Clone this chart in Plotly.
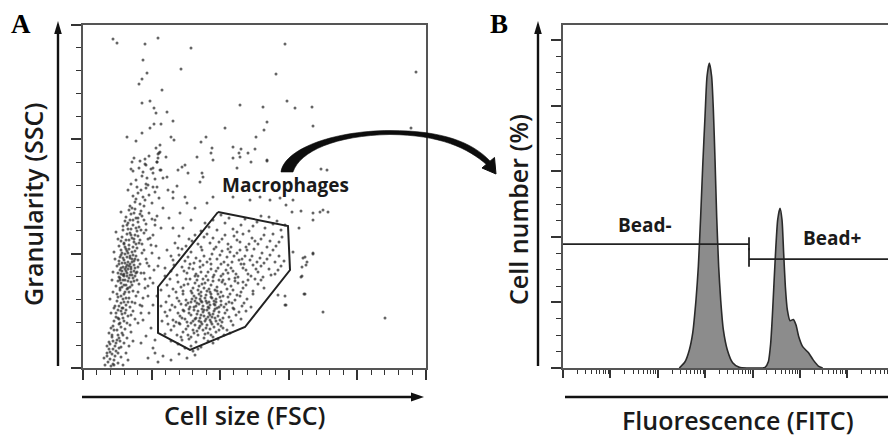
import plotly.graph_objects as go

# page body has an 8px margin: figure is sized so that it fills the 896x437 window
OFF = 8
W, H = 896 - OFF, 437 - OFF

# ---------------- Panel A : FSC / SSC events (arbitrary channel units) ----------------
events_sparse = [
    (30,329),(34,325),(62,324),(75,330),(108,320),(202,324),(60,308),(64,295),(59,289),(56,284),
    (98,299),(193,294),(333,296),(79,278),(59,265),(67,267),(71,260),(73,255),(84,256),(90,247),
    (71,244),(78,244),(67,240),(157,263),(180,261),(204,267),(212,260),(229,261),(230,242),(184,246),
    (181,238),(173,231),(142,240),(328,240),(44,231),(53,227),(59,235),(88,231),(91,228),(118,226),
    (123,231),(129,220),(128,215),(158,219),(156,215),(150,210),(172,219),(168,206),(184,207),(73,220),
    (77,223),(77,216),(76,215),(62,209),(63,203),(49,206),(50,197),(75,210),(74,206),(70,200),
    (77,198),(95,198),(102,203),(119,195),(83,211),(238,199),(244,198),
    (216,140),(222,111),(230,114),(219,101),(219,92),(221,74),(202,63),(240,56),(302,50),(240,158),
    (230,148),(245,156),(209,156),(218,157),(230,155),(210,116),(220,110),(224,106),(223,103),(230,115),
    (218,91),(203,163),(195,73),(202,72),(203,63),(222,74),
    (105,195),(117,186),(130,171),(150,171),(167,168),(177,171),(187,168),(197,170),(210,168),(237,156),
    (124,165),(102,171),(90,176),(74,181),(84,191),(120,191),(99,201),(114,211),(130,208),(157,211),
    (184,208),(150,221),(165,215),(154,200),
]

events_left = [
    (22,3),(25,6),(28,2),(31,8),(24,12),(35,5),(29,14),(38,11),(33,17),(26,19),(40,3),(43,15),(21,10),(36,20),(30,4),(45,8),
    (27,24),(32,22),(37,27),(41,25),(29,31),(35,33),(44,30),(48,36),(31,38),(39,35),(26,35),(46,22),(34,28),(42,39),(50,27),(38,21),(30,27),
    (30,42),(36,44),(41,47),(47,43),(33,51),(39,54),(45,52),(52,49),(28,55),(35,58),(43,58),(50,57),(38,41),(55,45),(31,47),(48,53),(40,50),(44,45),(36,49),(58,55),
    (32,62),(38,65),(43,63),(49,66),(35,71),(41,74),(46,70),(53,72),(30,76),(37,78),(44,79),(50,77),(57,63),(40,69),(47,61),(55,76),(34,67),(60,70),(42,76),(27,69),(52,65),(39,60),
    (33,82),(38,85),(43,83),(48,86),(36,91),(41,94),(46,90),(52,92),(30,96),(37,98),(45,99),(51,97),(56,84),(40,88),(47,81),(58,95),(35,87),(62,89),(44,95),(54,88),(39,81),(49,93),(42,99),(29,88),(65,82),
    (34,102),(39,105),(44,103),(49,106),(37,111),(42,114),(47,110),(53,112),(31,116),(38,118),(46,119),(52,117),(57,104),(41,108),(48,101),(59,115),(36,107),(63,109),(45,115),(55,108),(40,101),(50,113),(43,119),(32,109),(66,102),(61,118),(51,103),(38,113),
    (36,122),(41,125),(46,123),(51,126),(39,131),(44,134),(49,130),(55,132),(33,136),(40,138),(48,139),(54,137),(59,124),(43,128),(50,121),(61,135),(38,127),(65,129),(47,135),(57,128),(42,121),(52,133),(45,139),(35,129),(68,123),(63,138),(53,124),(70,133),
    (40,142),(45,145),(50,143),(55,146),(43,151),(48,154),(53,150),(59,152),(38,156),(46,158),(52,159),(58,157),(63,144),(47,148),(56,141),(66,155),(42,147),(69,149),(51,155),(61,148),(72,143),(49,160),(57,154),(74,152),
    (47,162),(52,166),(57,164),(62,168),(50,172),(55,175),(60,171),(66,173),(45,178),(54,181),(63,180),(69,165),(58,178),(72,176),(48,184),(65,183),(53,169),(76,170),(61,162),(70,181),
    (53,188),(59,192),(64,190),(70,195),(56,200),(62,204),(68,199),(74,206),(51,210),(66,212),(72,189),(78,198),(60,196),(48,199),(75,214),(57,207),(80,190),(63,184),
    (37,90),(41,92),(45,87),(50,90),(39,97),(43,101),(48,96),(52,100),(36,104),(40,110),(45,106),(49,109),(54,96),(47,93),(42,88),(38,94),(44,111),(51,107),(46,102),(55,101),
    (24,15),(27,9),(32,12),(35,15),(30,19),(26,26),(33,25),(36,30),(40,33),(28,40),(34,38),(37,45),(33,55),(38,57),(42,55),(31,60),(36,62),(41,66),(45,66),(34,74),
    (38,72),(43,70),(37,80),(41,83),(45,80),(49,83),(35,95),(40,93),(44,92),(48,99),(53,95),(38,100),(42,105),(47,104),(52,109),(39,115),(44,117),(49,116),(54,120),(41,124),
    (46,128),(51,129),(56,125),(48,133),(53,140),(44,143),(58,138),(50,148),(55,150),(47,112),(43,97),(37,88),(51,87),(46,76),(40,60),(35,50),(29,33),(24,22),(31,3),(27,16),
]

events_gate = [
    (95,24),(102,20),(108,22),(113,26),(118,21),(125,27),(99,28),(106,29),(130,25),(88,27),(115,19),(121,30),(135,29),(110,17),
    (82,34),(88,38),(94,33),(100,36),(105,42),(111,35),(116,40),(122,34),(127,39),(133,36),(138,42),(144,38),(150,43),(91,42),(97,44),(108,31),(119,44),(130,31),(141,33),(85,44),(103,39),(114,37),(124,43),(136,38),(147,35),(112,43),(128,33),(98,31),
    (79,47),(84,52),(90,48),(95,55),(99,50),(104,46),(108,53),(112,49),(115,57),(118,46),(121,52),(124,58),(127,48),(130,54),(133,47),(136,56),(140,50),(144,58),(148,47),(153,53),(158,49),(163,57),(87,58),(93,46),(101,57),(106,59),(110,47),(114,54),(117,50),(120,56),(123,49),(126,55),(129,51),(132,59),(135,52),(139,46),(142,55),(146,51),(151,59),(156,56),(82,56),(97,52),(116,47),(125,51),(131,57),(119,59),(128,46),(111,58),(137,48),
    (78,62),(83,66),(89,63),(94,70),(98,64),(103,68),(107,61),(111,72),(114,65),(117,69),(120,62),(123,73),(126,66),(129,70),(132,63),(135,74),(138,67),(141,61),(145,71),(149,65),(154,73),(159,62),(164,69),(170,74),(86,72),(92,61),(100,74),(105,65),(109,69),(113,62),(116,74),(119,66),(122,70),(125,61),(128,74),(131,67),(134,60),(137,71),(143,64),(147,74),(152,68),(157,72),(161,65),(168,61),(96,67),(118,72),(127,63),(133,69),(112,67),(124,65),
    (78,78),(84,83),(90,79),(95,86),(100,77),(105,84),(110,80),(114,88),(118,76),(122,85),(126,79),(130,87),(134,81),(138,76),(142,84),(146,89),(150,78),(155,85),(160,80),(165,88),(170,77),(175,84),(181,80),(87,89),(93,76),(103,89),(108,77),(116,82),(120,89),(128,83),(136,88),(144,79),(152,87),(158,76),(163,83),(172,89),(98,81),(112,85),(124,77),(132,78),(140,88),(148,82),(178,88),
    (82,92),(88,97),(94,93),(99,101),(104,95),(110,99),(115,92),(120,103),(125,96),(130,91),(135,100),(140,94),(145,103),(150,97),(155,91),(160,100),(165,94),(170,103),(175,96),(180,91),(186,99),(192,94),(198,102),(91,103),(107,104),(118,96),(128,104),(138,92),(148,100),(158,104),(168,92),(178,102),(188,93),(113,94),(133,97),(153,94),(163,98),(143,98),(123,92),(173,99),(101,97),(195,98),
    (90,108),(96,113),(102,107),(108,116),(113,110),(119,118),(124,106),(129,114),(134,109),(139,117),(144,111),(149,106),(154,115),(159,109),(164,118),(169,112),(174,106),(179,115),(184,109),(190,118),(196,112),(201,107),(99,119),(111,105),(121,112),(131,119),(141,106),(151,112),(161,104),(171,119),(181,105),(187,113),(105,111),(137,113),(157,118),(167,108),(147,116),(127,109),(117,107),(177,110),(192,106),
    (103,122),(109,127),(115,124),(121,131),(127,125),(133,121),(139,129),(145,124),(151,132),(157,126),(163,121),(169,130),(175,124),(181,133),(187,127),(193,122),(199,131),(112,133),(124,134),(136,126),(148,121),(160,134),(172,127),(184,121),(196,126),(118,121),(142,133),(154,128),(166,124),(178,129),(130,130),(190,134),(106,129),
    (118,137),(126,141),(134,138),(142,145),(150,139),(158,143),(166,137),(174,146),(182,140),(190,144),(198,138),(130,148),(146,150),(162,149),(178,152),(194,147),(122,145),(138,153),(154,136),(170,142),(186,151),(202,143),
    (105,33),(110,38),(115,33),(120,38),(125,35),(131,41),(108,45),(113,50),(118,53),(122,47),(127,53),(132,50),(106,55),(111,61),(116,64),(121,58),(126,60),(131,64),(136,61),(103,63),
    (108,66),(113,70),(118,67),(123,67),(128,71),(133,66),(138,63),(100,58),(96,45),(102,49),(117,42),(123,40),(129,44),(135,44),(140,40),(109,75),(115,78),(121,80),(127,76),(134,77),
    (140,72),(146,66),(150,60),(101,83),(107,89),(112,92),(119,84),(125,88),(131,93),(139,86),(145,95),(152,90),(160,86),(156,108),(162,112),(145,119),(138,104),(128,99),(117,101),(106,100),
]

events_between = [
    (58,25),(63,32),(68,40),(72,28),(60,48),(66,55),(70,63),(74,72),(62,80),(67,90),(71,98),(64,105),(69,115),(73,122),(76,110),(59,62),(65,72),(70,85),(61,95),(75,102),
    (67,130),(78,140),(72,148),(80,160),(86,150),(90,140),(96,132),(92,125),(84,118),(88,112),(82,100),(95,120),(100,140),(108,148),(112,160),(104,165),(97,155),(90,170),(85,178),(94,182),
    (65,10),(72,15),(80,12),(88,8),(96,14),(104,10),(75,6),(112,13),(70,20),
]

events = events_sparse + events_left + events_gate + events_between
fsc = [e[0] for e in events]
ssc = [e[1] for e in events]

gate_fsc = [135, 205, 207, 162, 107, 75, 75, 135]
gate_ssc = [156, 142, 98, 41, 18, 35, 81, 156]

fsc_range = [0, 343]
ssc_range = [0, 343]
fsc_major = 68.6
ssc_major = 114.333

# ---------------- Panel B : FITC histogram (log10 decades) ----------------
fitc_log = [2.454, 2.574, 2.665, 2.736, 2.806, 2.855, 2.904, 2.947, 2.996, 3.038, 3.087,
            3.136, 3.172, 3.207, 3.242, 3.284, 3.326, 3.383, 3.467, 3.579, 3.72, 3.875,
            4.262, 4.332, 4.381, 4.416, 4.451, 4.487, 4.529, 4.578, 4.620, 4.655, 4.691,
            4.733, 4.789, 4.859, 4.916, 4.972, 5.056, 5.176, 5.281, 5.387, 5.478]
cell_pct = [0.0, 1.9, 5.5, 10.6, 20.8, 30.9, 46.2, 61.4, 76.7, 88.9, 93.0,
            88.9, 78.7, 63.5, 46.2, 30.9, 20.8, 11.6, 5.5, 1.6, 0.2, 0.0,
            0.2, 1.9, 7.5, 15.7, 25.8, 36.0, 45.2, 48.7, 45.2, 35.0, 24.8,
            17.7, 14.4, 14.8, 13.1, 9.6, 6.5, 4.7, 2.4, 0.6, 0.0]

bead_neg_x = [0, 3.924]
bead_neg_y = 37.8
bead_pos_x = [3.924, 7.03]
bead_pos_y = 33.2
gate_split = 3.924

fitc_range = [0, 7.025]
pct_range = [0, 104.6]

# ---------------- figure ----------------
def px(x):
    return (x - OFF) / W

def py(y):
    return 1 - (y - OFF) / H

def pt(x, y):
    return f"{px(x):.5f},{py(y):.5f}"

fig = go.Figure()

fig.add_trace(go.Scatter(
    x=fsc, y=ssc, mode="markers", xaxis="x", yaxis="y",
    marker=dict(size=3, color="#2a2a2a", opacity=0.72, line=dict(width=0)),
    hoverinfo="skip", showlegend=False))

fig.add_trace(go.Scatter(
    x=gate_fsc, y=gate_ssc, mode="lines", xaxis="x", yaxis="y",
    line=dict(color="#222222", width=2), hoverinfo="skip", showlegend=False))

fig.add_trace(go.Scatter(
    x=fitc_log, y=cell_pct, mode="lines", xaxis="x2", yaxis="y2",
    fill="tozeroy", fillcolor="#8c8c8c",
    line=dict(color="#2a2a2a", width=1.6, shape="spline", smoothing=0.6),
    hoverinfo="skip", showlegend=False))

# gate markers
fig.add_trace(go.Scatter(
    x=bead_neg_x, y=[bead_neg_y, bead_neg_y], mode="lines", xaxis="x2", yaxis="y2",
    line=dict(color="#222222", width=1.8), hoverinfo="skip", showlegend=False))
fig.add_trace(go.Scatter(
    x=bead_pos_x, y=[bead_pos_y, bead_pos_y], mode="lines", xaxis="x2", yaxis="y2",
    line=dict(color="#222222", width=1.8), hoverinfo="skip", showlegend=False))
fig.add_trace(go.Scatter(
    x=[gate_split, gate_split], y=[bead_neg_y - 1.9, bead_neg_y + 2.1], mode="lines", xaxis="x2", yaxis="y2",
    line=dict(color="#222222", width=1.8), hoverinfo="skip", showlegend=False))
fig.add_trace(go.Scatter(
    x=[gate_split, gate_split], y=[bead_pos_y - 2.3, bead_pos_y + 3.4], mode="lines", xaxis="x2", yaxis="y2",
    line=dict(color="#222222", width=1.8), hoverinfo="skip", showlegend=False))

tick_col = "#333333"
frame_col = "#555555"

fsc_ticks = [i * fsc_major for i in range(6)]
fsc_minor = [i * fsc_major / 5 for i in range(26) if i % 5]
ssc_ticks = [i * ssc_major for i in range(4)]
ssc_minor = [i * ssc_major / 5 for i in range(16) if i % 5]

fitc_ticks = list(range(8))
fitc_minor = [d + lv for d in range(7) for lv in
              (0.30103, 0.47712, 0.60206, 0.69897, 0.77815, 0.84510, 0.90309, 0.95424)]
pct_ticks = [0, 20, 40, 60, 80, 100]
pct_minor = [v for v in range(5, 105, 5) if v % 20]

common_axis = dict(showgrid=False, zeroline=False, showticklabels=False, showline=True,
                   linecolor=frame_col, linewidth=1.5, ticks="outside", ticklen=10,
                   tickwidth=1.6, tickcolor=tick_col, fixedrange=True)

fig.update_layout(
    width=W, height=H, autosize=False,
    margin=dict(l=0, r=0, t=0, b=0),
    paper_bgcolor="white", plot_bgcolor="white",
    font=dict(family="Open Sans", color="#1a1a1a"),
    xaxis=dict(domain=[px(83), px(426)], range=fsc_range, anchor="y", mirror=True,
               tickmode="array", tickvals=fsc_ticks,
               minor=dict(tickmode="array", tickvals=fsc_minor, ticks="outside", ticklen=5,
                          tickwidth=1.4, tickcolor=tick_col),
               **common_axis),
    yaxis=dict(domain=[py(368), py(25)], range=ssc_range, anchor="x", mirror=True,
               tickmode="array", tickvals=ssc_ticks,
               minor=dict(tickmode="array", tickvals=ssc_minor, ticks="outside", ticklen=5,
                          tickwidth=1.4, tickcolor=tick_col),
               **common_axis),
    xaxis2=dict(domain=[px(563), 1.0], range=fitc_range, anchor="y2", mirror=True,
                tickmode="array", tickvals=fitc_ticks,
                minor=dict(tickmode="array", tickvals=fitc_minor, ticks="outside", ticklen=4,
                           tickwidth=1.3, tickcolor=tick_col),
                **{**common_axis, "ticklen": 8}),
    yaxis2=dict(domain=[py(368), py(25)], range=pct_range, anchor="x2", mirror=False,
                tickmode="array", tickvals=pct_ticks,
                minor=dict(tickmode="array", tickvals=pct_minor, ticks="outside", ticklen=5,
                           tickwidth=1.4, tickcolor=tick_col),
                **common_axis),
)

shapes = []
# axis arrows, panel A
shapes.append(dict(type="line", xref="paper", yref="paper", x0=px(58), y0=py(366), x1=px(58), y1=py(31),
                   line=dict(color="#111111", width=2.4)))
shapes.append(dict(type="path", xref="paper", yref="paper",
                   path=f"M{pt(58,21)} L{pt(54.2,34)} L{pt(61.8,34)} Z",
                   fillcolor="#111111", line=dict(width=0)))
shapes.append(dict(type="line", xref="paper", yref="paper", x0=px(82), y0=py(397), x1=px(413), y1=py(397),
                   line=dict(color="#111111", width=2.6)))
shapes.append(dict(type="path", xref="paper", yref="paper",
                   path=f"M{pt(424,397)} L{pt(411,392.5)} L{pt(411,401.5)} Z",
                   fillcolor="#111111", line=dict(width=0)))
# axis arrows, panel B
shapes.append(dict(type="line", xref="paper", yref="paper", x0=px(538), y0=py(366), x1=px(538), y1=py(31),
                   line=dict(color="#111111", width=2.4)))
shapes.append(dict(type="path", xref="paper", yref="paper",
                   path=f"M{pt(538,21)} L{pt(534.2,34)} L{pt(541.8,34)} Z",
                   fillcolor="#111111", line=dict(width=0)))
shapes.append(dict(type="line", xref="paper", yref="paper", x0=px(565), y0=py(397), x1=1.0, y1=py(397),
                   line=dict(color="#111111", width=2.6)))
# curved arrow from gate to histogram (tapered)
shapes.append(dict(type="path", xref="paper", yref="paper",
                   path=(f"M{pt(281,172)} C{pt(284,150)} {pt(330,131)} {pt(390,130.5)} "
                         f"C{pt(442,130.5)} {pt(472,142)} {pt(490,161)} "
                         f"L{pt(487,165)} "
                         f"C{pt(468,148)} {pt(440,135)} {pt(390,134.5)} "
                         f"C{pt(336,135.5)} {pt(300,151)} {pt(293,172)} Z"),
                   fillcolor="#0d0d0d", line=dict(color="#0d0d0d", width=0.6)))
shapes.append(dict(type="path", xref="paper", yref="paper",
                   path=f"M{pt(482,168)} L{pt(494.5,157.5)} L{pt(496,174)} Z",
                   fillcolor="#0d0d0d", line=dict(color="#0d0d0d", width=1)))
fig.update_layout(shapes=shapes)

title_font = dict(family="Open Sans", size=25, color="#1a1a1a", weight=600)
label_font = dict(family="Open Sans", size=19, color="#1a1a1a", weight=700)
letter_font = dict(family="Liberation Serif", size=27, color="#000000", weight=700)

ann = [
    dict(text="A", x=px(21), y=py(24), font=letter_font),
    dict(text="B", x=px(499), y=py(24), font=letter_font),
    dict(text="Granularity (SSC)", x=px(33), y=py(205), font=title_font, textangle=-90),
    dict(text="Cell size (FSC)", x=px(244), y=py(415), font=title_font),
    dict(text="Cell number (%)", x=px(518), y=py(210), font=title_font, textangle=-90),
    dict(text="Fluorescence (FITC)", x=px(738), y=py(420), font=title_font),
]
for a in ann:
    a.update(xref="paper", yref="paper", showarrow=False, xanchor="center", yanchor="middle")

ann += [
    dict(text="Macrophages", x=202, y=183, xref="x", yref="y", showarrow=False,
         xanchor="center", yanchor="middle", font=label_font),
    dict(text="Bead-", x=1.73, y=43.6, xref="x2", yref="y2", showarrow=False,
         xanchor="center", yanchor="middle", font=label_font),
    dict(text="Bead+", x=5.68, y=39.6, xref="x2", yref="y2", showarrow=False,
         xanchor="center", yanchor="middle", font=label_font),
]
fig.update_layout(annotations=ann)

fig.write_html("out.html")
